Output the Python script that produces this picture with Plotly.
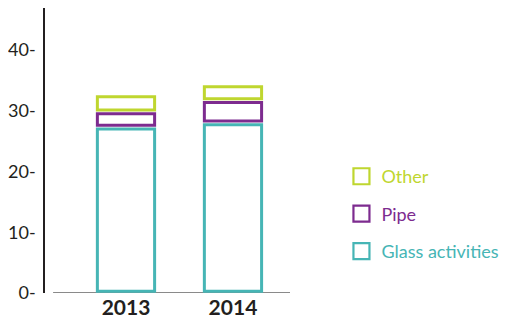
import plotly.graph_objects as go

years = ["2013", "2014"]
glass = [27.3, 28.0]
pipe = [2.5, 3.65]
other = [2.8, 2.6]
series_names = ["Glass activities", "Pipe", "Other"]
colors = ["#46b5b5", "#7d2b8f", "#bfd62f"]
y_ticks = [0, 10, 20, 30, 40]
y_tick_text = ["0-", "10-", "20-", "30-", "40-"]

INSET = 0.3  # visual inset of each outlined segment (style)

fig = go.Figure()
series = [glass, pipe, other]
cum = [0.0] * len(years)
for name, vals, col in zip(series_names, series, colors):
    base = [c + INSET for c in cum]
    heights = [v - 2 * INSET for v in vals]
    fig.add_trace(go.Bar(
        x=years, y=heights, base=base, name=name, showlegend=False,
        marker=dict(color="white", line=dict(color=col, width=3)),
        width=0.535,
    ))
    cum = [c + v for c, v in zip(cum, vals)]

# legend entries (outlined squares, coloured text)
for i, (name, col) in reversed(list(enumerate(zip(series_names, colors)))):
    fig.add_trace(go.Scatter(
        x=[None], y=[None], mode="markers",
        name=f"<span style='color:{col}'>{name}</span>",
        marker=dict(symbol="square-open", size=19, color=col, line=dict(width=2.2, color=col)),
        legendgroup=f"g{i}",
    ))

fig.update_layout(
    barmode="overlay",
    width=511, height=327,
    margin=dict(l=37, r=229, t=0, b=42, autoexpand=False),
    plot_bgcolor="white", paper_bgcolor="white",
    font=dict(family="Lato, Open Sans, sans-serif", color="#231f20"),
    showlegend=True,
    legend=dict(
        x=1.21, y=0.277, xanchor="left", yanchor="middle",
        traceorder="grouped", tracegroupgap=11, itemsizing="trace",
        font=dict(size=18), itemclick=False,
    ),
)
fig.update_xaxes(
    type="category", range=[-0.757, 1.533], showline=False, showgrid=False,
    ticks="", tickfont=dict(size=21, family="Lato, sans-serif", weight="bold", color="#231f20"),
    automargin=False,
)
fig.update_yaxes(
    range=[0, 46.9], tickvals=y_ticks, ticktext=y_tick_text, showgrid=False, zeroline=False,
    showline=True, linecolor="#231f20", linewidth=1.5, ticks="",
    tickfont=dict(size=18, color="#231f20"), ticklabelstandoff=4, automargin=False,
)
fig.add_shape(type="line", xref="paper", yref="y", x0=0.033, x1=1, y0=0, y1=0,
              line=dict(color="#8a8a8a", width=2), layer="below")
fig.write_html("out.html")
